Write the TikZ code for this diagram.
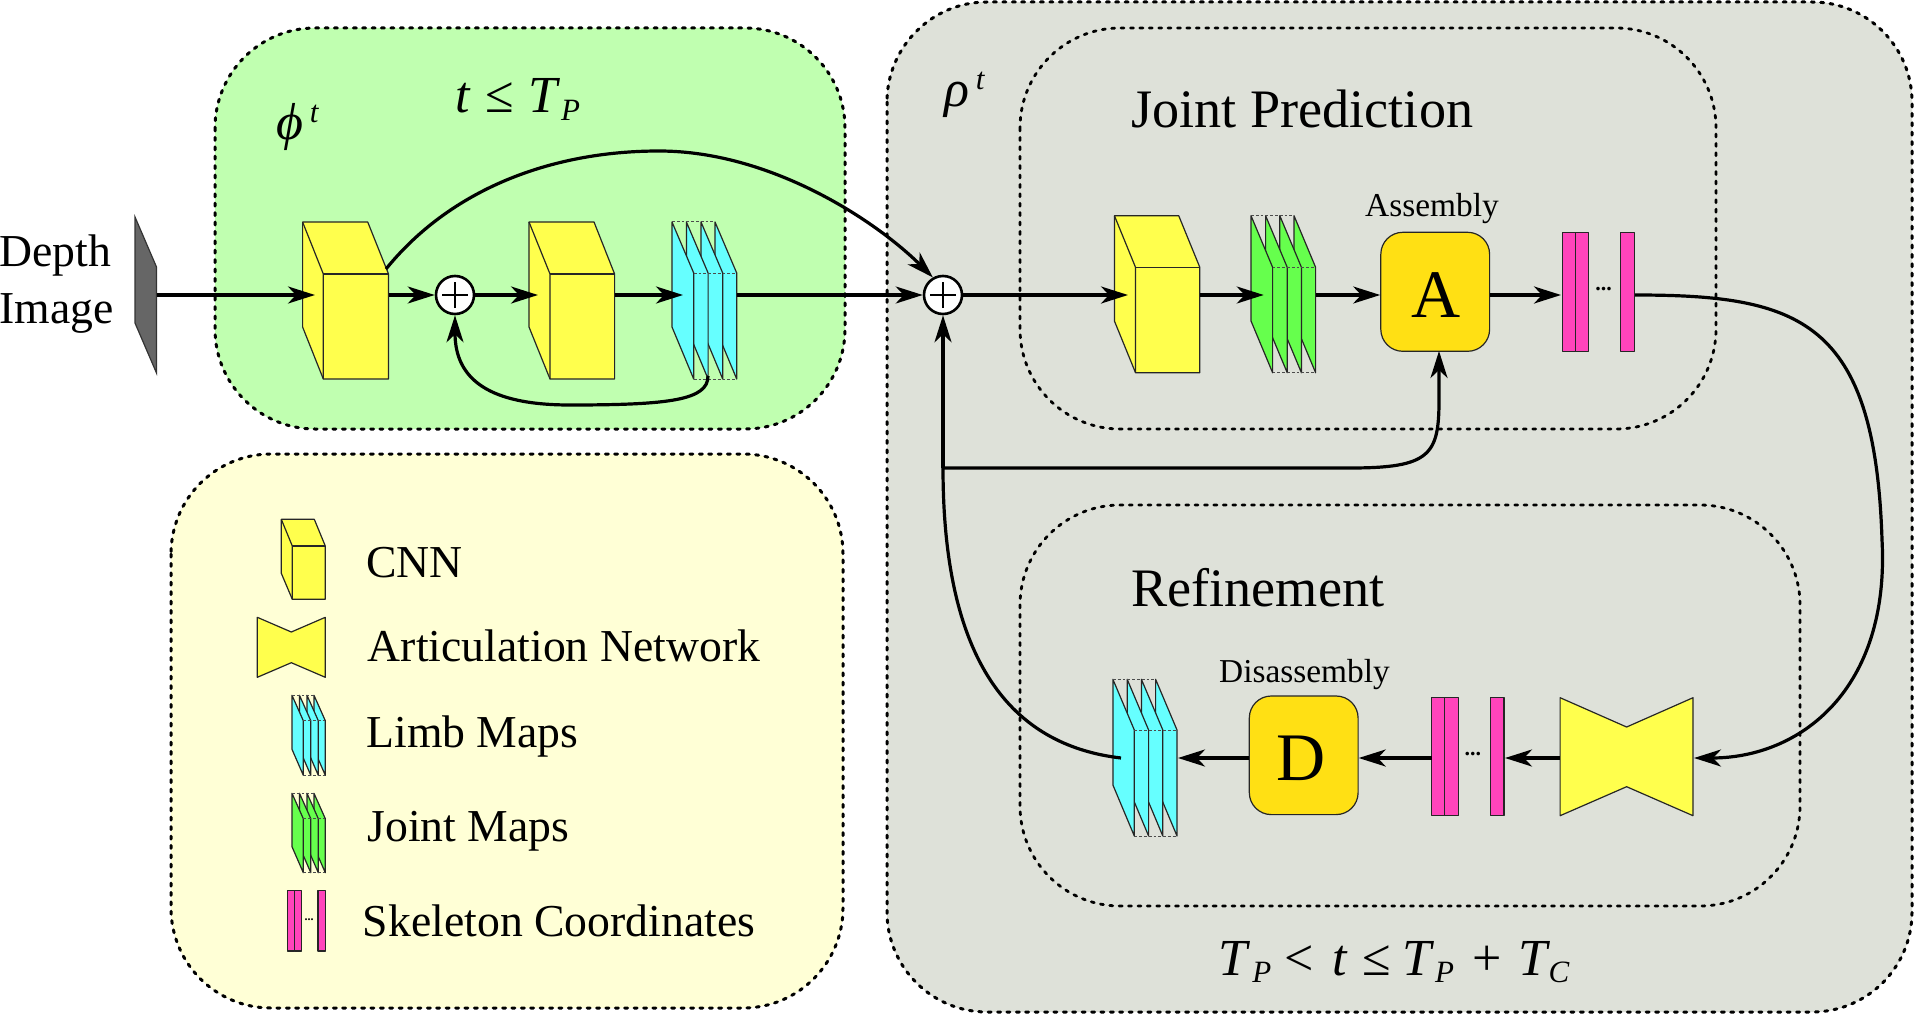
\documentclass[tikz,border=0pt]{standalone}
\usepackage{fontspec}
\setmainfont{Liberation Serif}
\usetikzlibrary{arrows.meta}
\definecolor{bgGreen}{HTML}{C0FFB0}
\definecolor{bgYellow}{HTML}{FFFFD6}
\definecolor{bgGray}{HTML}{DEE1D9}
\definecolor{cubeY}{HTML}{FFFF4D}
\definecolor{mapC}{HTML}{66FFFF}
\definecolor{mapG}{HTML}{66FF4D}
\definecolor{pinkB}{HTML}{FF44BB}
\definecolor{goldB}{HTML}{FFE014}
\definecolor{planeG}{HTML}{666666}
\tikzset{
  panel/.style={line width=1.5pt,line cap=round,dash pattern=on 1.5pt off 3.2pt,rounded corners=50pt},
  inner panel/.style={panel,line width=1.4pt},
  blockline/.style={draw=black!85,line width=0.6pt,line join=round},
  gapline/.style={draw=black!70,line width=0.5pt,dash pattern=on 1.4pt off 1pt},
  link/.style={line width=1.6pt,black,-{Stealth[length=13.5pt,width=8.5pt,inset=4pt]}},
  plain link/.style={line width=1.6pt,black},
  txtlabel/.style={anchor=base west,inner sep=0pt,font=\fontsize{22.85}{26}\selectfont},
  heading/.style={anchor=base west,inner sep=0pt,font=\fontsize{27.1}{30}\selectfont},
  formula/.style={anchor=base west,inner sep=0pt,font=\fontsize{26}{28}\selectfont},
  supt/.style={anchor=base west,inner sep=0pt,font=\fontsize{15.5}{17}\selectfont\itshape},
  opbox/.style={draw=black!85,fill=goldB,line width=0.6pt,rounded corners=11pt,inner sep=0pt},
  opletter/.style={inner sep=0pt,font=\fontsize{34}{36}\selectfont},
  sumnode/.style={circle,draw=black,fill=white,line width=1.3pt,minimum size=19pt,inner sep=0pt},
  captext/.style={anchor=base,inner sep=0pt,font=\fontsize{16.7}{18}\selectfont},
  dotsl/.style={inner sep=0pt,font=\fontsize{11}{12}\selectfont\bfseries},
}
\newcommand\Sb[1]{\raisebox{-3.85pt}{\fontsize{15.5}{17}\selectfont\itshape #1}}
% x0 x1 x2 x3  y0 y1 y2 y3
\newcommand\cubeblk[8]{%
  \path[blockline,fill=cubeY] (#1,#5) -- (#3,#5) -- (#4,#6) -- (#4,#8) -- (#2,#8) -- (#1,#7) -- cycle;
  \path[blockline] (#1,#5) -- (#2,#6) -- (#2,#8);
  \path[blockline] (#2,#6) -- (#4,#6);
}
% colour, x list back to front, dx, y0 y1 y2 y3
\newcommand\sheets[7]{%
  \foreach \sx in {#2}{
    \path[blockline,fill=#1] (\sx,#4) -- (\sx+#3,#5) -- (\sx+#3,#7) -- (\sx,#6) -- cycle;
  }
}
\newcommand\tiebox[7]{%
  \path[blockline,fill=cubeY] (#1,#4) -- (#2,#5) -- (#3,#4) -- (#3,#7) -- (#2,#6) -- (#1,#7) -- cycle;
}
\newcommand\pinks[6]{%
  \path[blockline,fill=pinkB] (#1,#5) rectangle (#2,#6);
  \path[blockline,fill=pinkB] (#2,#5) rectangle (#3,#6);
  \path[blockline,fill=pinkB] (#4,#5) rectangle (#4+#3-#2,#6);
}
\begin{document}
\begin{tikzpicture}[x=0.5pt,y=-0.5pt]
\useasboundingbox (0,0) rectangle (1914,1016);
% panels
\path[panel,draw=black,fill=bgGreen] (215,28) rectangle (845,429);
\path[panel,draw=black,fill=bgYellow] (171,454) rectangle (843,1008);
\path[panel,draw=black,fill=bgGray] (887,2) rectangle (1912,1012);
\path[inner panel,draw=black] (1020,28) rectangle (1716,429);
\path[inner panel,draw=black] (1020,505) rectangle (1800,906);
% named points
\coordinate (planeOut) at (156.5,295);
\coordinate (c1In) at (315,295);
\coordinate (c1Out) at (388.5,295);
\coordinate (c1Top) at (386,269);
\coordinate (c2In) at (538,295);
\coordinate (c2Out) at (615,295);
\coordinate (m1In) at (683,295);
\coordinate (m1Out) at (737,295);
\coordinate (m1Loop) at (708,376);
\coordinate (c3In) at (1128,295);
\coordinate (c3Out) at (1200,295);
\coordinate (m2In) at (1263.7,295);
\coordinate (m2Out) at (1316,295);
\coordinate (p1In) at (1561,295);
\coordinate (p1Out) at (1635,295);
\coordinate (turn) at (1882,540);
\coordinate (btIn) at (1694,758);
\coordinate (btOut) at (1560,758);
\coordinate (p2In) at (1505,758);
\coordinate (p2Out) at (1431.6,758);
\coordinate (m3In) at (1178,758);
\coordinate (m3Out) at (1121,758);
\coordinate (branch) at (943,468);
\coordinate (aUp) at (1439,351);
% input plane
\path[draw=black!80,line width=0.6pt,fill=planeG] (135,217) -- (156.5,267) -- (156.5,373) -- (135,323) -- cycle;
% phi blocks
\cubeblk{302.6}{323.3}{367.7}{388.5}{222}{274}{327}{379}
\cubeblk{529}{550}{594}{614.6}{222}{274}{327}{379}
\sheets{mapC}{715,701,686.4,672}{21.7}{222}{273}{327}{379}
\path[gapline] (672,222) -- (715,222) (693.7,273) -- (736.7,273) (693.7,379) -- (736.7,379);
% joint prediction blocks
\cubeblk{1114.4}{1135.5}{1178.7}{1199.8}{215.7}{267.3}{321}{372.7}
\sheets{mapG}{1294,1279.8,1265.6,1251}{21.6}{215.7}{267.3}{321}{372.7}
\path[gapline] (1251,215.7) -- (1294,215.7) (1272.6,267.3) -- (1315.6,267.3) (1272.6,372.7) -- (1315.6,372.7);
\node[opbox,minimum width=54.4pt,minimum height=59.5pt] (A) at (1435.2,291.8) {};
\node[opletter] (Aletter) at (1436,295) {A};
\node[captext] (asm) at (1432,216.7) {Assembly};
\pinks{1562.2}{1575.2}{1588.6}{1620.8}{232.3}{351.3}
\node[dotsl] (d1) at (1603.5,289) {...};
% refinement blocks
\tiebox{1560.1}{1626.6}{1693}{697.7}{727}{786.7}{815.7}
\pinks{1431.6}{1444.7}{1458.5}{1490.2}{697.7}{815.7}
\node[dotsl] (d2) at (1472.8,754) {...};
\node[opbox,minimum width=54.4pt,minimum height=59.3pt] (D) at (1303.7,755.3) {};
\node[opletter] (Dletter) at (1301,758) {D};
\node[captext] (dis) at (1304.5,682.7) {Disassembly};
\sheets{mapC}{1155.6,1141.4,1127.2,1112.9}{21.4}{679.3}{730}{785}{836}
\path[gapline] (1112.9,679.3) -- (1155.6,679.3) (1134.3,730) -- (1177,730) (1134.3,836) -- (1177,836);
% sum nodes
\node[sumnode] (s1) at (455,295) {};
\node[sumnode] (s2) at (943,295) {};
\foreach \s in {s1,s2}{
  \draw[line width=1.1pt] ([xshift=-6.5pt]\s.center) -- ([xshift=6.5pt]\s.center);
  \draw[line width=1.1pt] ([yshift=-6.5pt]\s.center) -- ([yshift=6.5pt]\s.center);
}
% connectors
\draw[link] (planeOut) -- (c1In);
\draw[link] (c1Out) -- (s1);
\draw[link] (s1) -- (c2In);
\draw[link] (c2Out) -- (m1In);
\draw[link] (m1Out) -- (s2);
\draw[link] (s2) -- (c3In);
\draw[link] (c3Out) -- (m2In);
\draw[link] (m2Out) -- (A.west |- m2Out);
\draw[link] (A.east |- p1In) -- (p1In);
\draw[link] (c1Top) .. controls (450,190) and (550,151) .. (659,151) .. controls (770,151) and (875,220) .. (s2.120);
\draw[link] (m1Loop) .. controls (708,400) and (670,405) .. (570,405) .. controls (490,405) and (455,380) .. (s1.south);
\draw[plain link] (p1Out) .. controls (1800,295) and (1875,320) .. (turn);
\draw[link] (turn) .. controls (1890,690) and (1800,758) .. (btIn);
\draw[link] (btOut) -- (p2In);
\draw[link] (p2Out) -- (D.east |- p2Out);
\draw[link] (D.west |- m3In) -- (m3In);
\draw[plain link] (m3Out) .. controls (1010,745) and (943,660) .. (branch);
\draw[link] (branch) -- (s2.south);
\draw[link] (branch) -- (1350,468) .. controls (1430,468) and (1439,455) .. (1439,400) -- (aUp);
% titles
\node[txtlabel] (dep) at (-1,266) {Depth};
\node[txtlabel] (img) at (-1,323.5) {Image};
\node[heading] (jp) at (1131,128) {Joint Prediction};
\node[heading] (ref) at (1131,606) {Refinement};
\node[formula] (fa) at (455,113) {\textit{t}\kern7.2pt≤\kern7.2pt\textit{T}\kern0.5pt\Sb{P}};
\node[formula] (fb) at (276,139.7) {\textit{ϕ}};
\node[supt] (fbt) at (309.5,122.3) {t};
\node[formula] (fc) at (944,107) {\textit{ρ}};
\node[supt] (fct) at (975.5,90) {t};
\node[formula] (fd) at (1218,975) {\textit{T}\kern1pt\Sb{P}\kern6.5pt<\kern9.3pt\textit{t}\kern7.2pt≤\kern5.7pt\textit{T}\kern0.5pt\Sb{P}\kern9pt+\kern8.4pt\textit{T}\kern-0.8pt\Sb{C}};
% legend
\cubeblk{281.3}{292.3}{314.3}{325.3}{519.3}{546}{573.3}{599.3}
\tiebox{257.3}{291.3}{325.3}{617.3}{632}{662.7}{677.3}
\sheets{mapC}{314,307,299.5,292}{11.3}{695.3}{720.7}{749.3}{775.3}
\path[gapline,line width=0.35pt] (292,695.3) -- (314,695.3) (303.3,720.7) -- (325.3,720.7) (303.3,775.3) -- (325.3,775.3);
\sheets{mapG}{314,307,299.5,292}{11.3}{793.3}{818.7}{846.7}{872.7}
\path[gapline,line width=0.35pt] (292,793.3) -- (314,793.3) (303.3,818.7) -- (325.3,818.7) (303.3,872.7) -- (325.3,872.7);
\pinks{287.7}{294.3}{301.7}{318}{890.7}{951}
\node[inner sep=0pt,font=\fontsize{6}{7}\selectfont\bfseries] (d3) at (309,919.5) {...};
\node[txtlabel] (l1) at (366,577) {CNN};
\node[txtlabel] (l2) at (367.5,661.6) {Articulation Network};
\node[txtlabel] (l3) at (366,747) {Limb Maps};
\node[txtlabel] (l4) at (367,841) {Joint Maps};
\node[txtlabel] (l5) at (362.5,936) {Skeleton Coordinates};
\end{tikzpicture}
\end{document}
